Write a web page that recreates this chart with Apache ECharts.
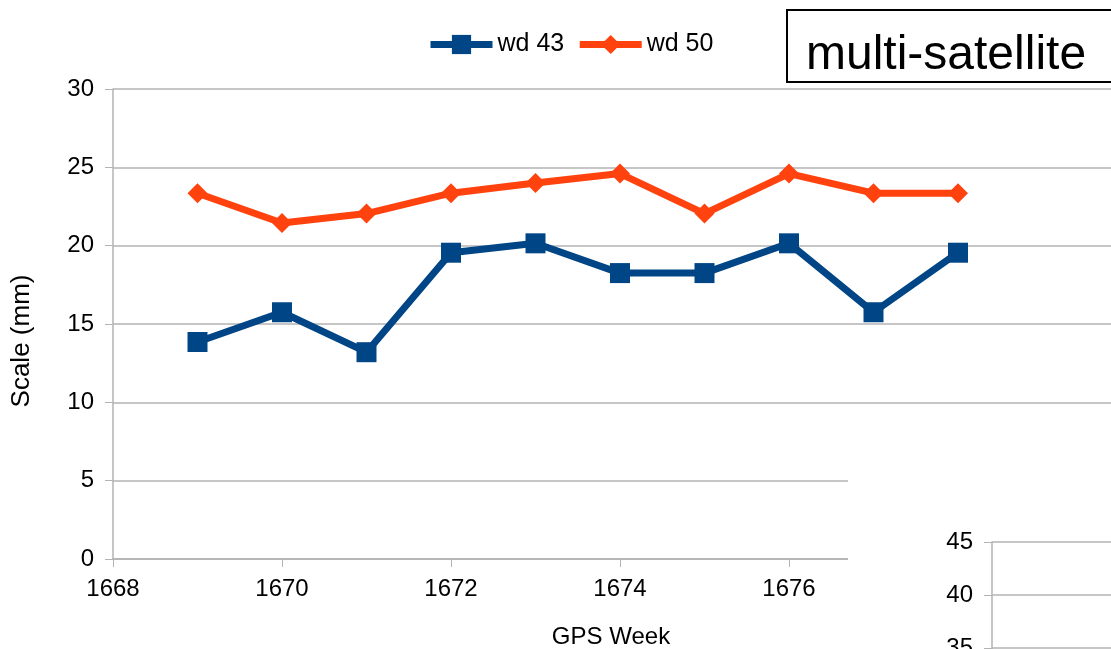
<!DOCTYPE html>
<html>
<head>
<meta charset="utf-8">
<script src="https://cdn.jsdelivr.net/npm/echarts@6/dist/echarts.min.js"></script>
<style>
  html, body { margin: 0; padding: 0; background: #fff; }
  #chart { width: 1111px; height: 649px; }
</style>
</head>
<body>
<div id="chart"></div>
<script>
// GPS week numbers and the scale values (mm) for each solution
var weeks = [1669, 1670, 1671, 1672, 1673, 1674, 1675, 1676, 1677, 1678];
var wd43 = [13.85, 15.75, 13.2, 19.55, 20.15, 18.25, 18.25, 20.15, 15.75, 19.55];
var wd50 = [23.35, 21.45, 22.05, 23.35, 24.0, 24.6, 22.05, 24.6, 23.35, 23.35];
var seriesNames = ['wd 43', 'wd 50'];

var FONT = '"Liberation Sans", Arial, sans-serif';
var GRID_COLOR = '#b3b3b3';

function pairs(vals) {
    return weeks.map(function (w, i) { return [w, vals[i]]; });
}

var myChart = echarts.init(document.getElementById('chart'));
var option = {
    animation: false,
    backgroundColor: '#fff',
    textStyle: { fontFamily: FONT },
    legend: {
        left: 422,
        top: 27,
        itemWidth: 62,
        itemHeight: 24,
        itemGap: 12,
        lineStyle: { width: 7 },
        textStyle: { fontSize: 25, color: '#000', fontFamily: FONT },
        data: seriesNames
    },
    grid: [
        { left: 113, top: 89, bottom: 90, right: -16, outerBoundsMode: 'none', containLabel: false },
        // the neighbouring chart peeking in at the bottom right
        { left: 992, top: 542, bottom: -52, right: -200, outerBoundsMode: 'none', containLabel: false }
    ],
    xAxis: [{
        type: 'value',
        gridIndex: 0,
        min: 1668,
        max: 1680,
        interval: 2,
        name: 'GPS Week',
        nameLocation: 'middle',
        nameGap: 66,
        nameTextStyle: { fontSize: 24, color: '#000', fontFamily: FONT, padding: [0, 18, 0, 0] },
        axisLine: { show: true, onZero: false, lineStyle: { color: GRID_COLOR, width: 1.5 } },
        axisTick: { show: true, length: 8, lineStyle: { color: GRID_COLOR } },
        axisLabel: { fontSize: 24, color: '#000', margin: 18, fontFamily: FONT,
            formatter: function (v) { return String(v); } },
        splitLine: { show: false }
    }, {
        type: 'value',
        gridIndex: 1,
        show: false,
        min: 0,
        max: 1,
        z: 200
    }],
    yAxis: [{
        type: 'value',
        gridIndex: 0,
        min: 0,
        max: 30,
        interval: 5,
        name: 'Scale (mm)',
        nameLocation: 'middle',
        nameGap: 78,
        nameTextStyle: { fontSize: 26, color: '#000', fontFamily: FONT, padding: [0, 34, 0, 0] },
        axisLine: { show: true, lineStyle: { color: GRID_COLOR, width: 1.5 } },
        axisTick: { show: true, length: 8, lineStyle: { color: GRID_COLOR } },
        axisLabel: { fontSize: 24, color: '#000', margin: 19, fontFamily: FONT },
        splitLine: { show: true, lineStyle: { color: GRID_COLOR, width: 1.5 } }
    }, {
        type: 'value',
        gridIndex: 1,
        min: 30,
        max: 45,
        interval: 5,
        z: 200,
        axisLine: { show: true, lineStyle: { color: GRID_COLOR, width: 1.5 } },
        axisTick: { show: true, length: 8, lineStyle: { color: GRID_COLOR } },
        axisLabel: { fontSize: 24, color: '#000', margin: 19, fontFamily: FONT },
        splitLine: { show: true, lineStyle: { color: GRID_COLOR, width: 1.5 } }
    }],
    graphic: [{
        type: 'rect',
        z: 100,
        shape: { x: 848, y: 440, width: 300, height: 260 },
        style: { fill: '#fff' }
    }, {
        type: 'rect',
        z: 100,
        shape: { x: 787, y: 10, width: 400, height: 72 },
        style: { fill: '#fff', stroke: '#000', lineWidth: 2 }
    }, {
        type: 'text',
        z: 101,
        x: 806,
        y: 56,
        style: {
            text: 'multi-satellite',
            font: '48px ' + FONT,
            fill: '#000',
            verticalAlign: 'middle'
        }
    }],
    series: [{
        name: seriesNames[0],
        type: 'line',
        xAxisIndex: 0,
        yAxisIndex: 0,
        data: pairs(wd43),
        symbol: 'rect',
        symbolSize: 20,
        color: '#004586',
        lineStyle: { width: 7, color: '#004586' },
        itemStyle: { color: '#004586' }
    }, {
        name: seriesNames[1],
        type: 'line',
        xAxisIndex: 0,
        yAxisIndex: 0,
        data: pairs(wd50),
        symbol: 'diamond',
        symbolSize: 20,
        color: '#ff420e',
        lineStyle: { width: 7, color: '#ff420e' },
        itemStyle: { color: '#ff420e' }
    }]
};
myChart.setOption(option);
</script>
</body>
</html>
